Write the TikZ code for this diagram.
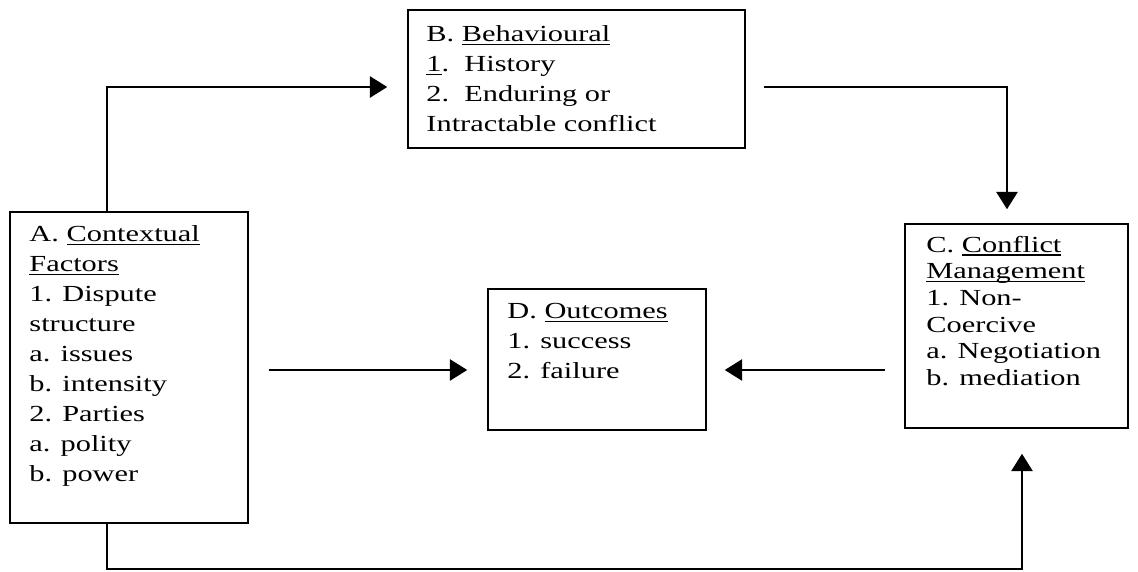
\documentclass[tikz,border=0pt]{standalone}
\usepackage{fontspec}
\setmainfont{Liberation Serif}[FakeStretch=1.32]
\usetikzlibrary{arrows.meta}
\newcommand\txtwide{\fontsize{17.25}{22.5}\selectfont}
\newcommand\txtnarrow{\fontsize{17.25}{20}\selectfont}
\newcommand\myul[1]{\setbox0\hbox{#1}\rlap{\rule[-2.6pt]{\wd0}{0.9pt}}\box0}
\tikzset{
  box/.style={draw, line width=1.2pt, inner sep=0pt},
  txt/.style={anchor=north west, inner sep=0pt, align=left},
  conn/.style={line width=1.2pt},
  arr/.style={conn, -{Triangle[length=13pt,width=16pt]}},
}
\begin{document}
\begin{tikzpicture}[x=0.75pt,y=-0.75pt]
\useasboundingbox[fill=white] (0,0) rectangle (1138,571);
% boxes
\node[box, minimum width=178.5pt, minimum height=233.25pt] (A) at (129,367.5) {};
\node[box, minimum width=252.75pt, minimum height=103.5pt] (B) at (576.5,79) {};
\node[box, minimum width=167.25pt, minimum height=153pt] (C) at (1016.5,326) {};
\node[box, minimum width=163.5pt, minimum height=105.75pt] (D) at (597,359.5) {};
% texts
\node[txt, font=\txtwide] (At) at ([shift={(20,9)}]A.north west)
  {\strut A. \myul{Contextual}\\ \myul{Factors}\\ 1. Dispute\\ structure\\ a. issues\\ b. intensity\\ 2. Parties\\ a. polity\\ b. power};
\node[txt, font=\txtwide] (Bt) at ([shift={(19,11)}]B.north west)
  {\strut B. \myul{Behavioural}\\ \myul{1}.\ \ History\\ 2.\ \ Enduring or\\ Intractable conflict};
\node[txt, font=\txtnarrow] (Ct) at ([shift={(22,10)}]C.north west)
  {\strut C. \myul{Conflict}\\ \myul{Management}\\ 1. Non-\\ Coercive\\ a. Negotiation\\ b. mediation};
\node[txt, font=\txtwide] (Dt) at ([shift={(20,9)}]D.north west)
  {\strut D. \myul{Outcomes}\\ 1. success\\ 2. failure};
% connectors
\draw[arr] ([shift={(98,0)}]A.north west) |- ([shift={(-20,8)}]B.west);
\draw[arr] ([shift={(18,8)}]B.east) -| ([shift={(-9.5,-14)}]C.north);
\draw[arr] ([shift={(20,2.5)}]A.east) -- ([shift={(-20,10.5)}]D.west);
\draw[arr] ([shift={(-19,44)}]C.west) -- ([shift={(18,10.5)}]D.east);
\draw[arr] ([shift={(98,0)}]A.south west) -- ++(0,45) -| ([shift={(5.5,25)}]C.south);
\end{tikzpicture}
\end{document}
